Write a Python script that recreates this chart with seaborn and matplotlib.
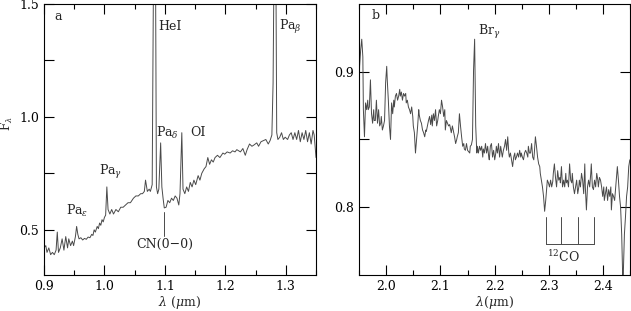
import matplotlib
matplotlib.use('Agg')
import matplotlib.pyplot as plt
import seaborn as sns
import pandas as pd
from matplotlib.ticker import MultipleLocator

# panel a: J-band spectrum (wavelength in micron, normalised flux)
wl_a = [0.900, 0.903, 0.905, 0.908, 0.911, 0.914, 0.917, 0.920, 0.922, 0.924,
        0.927, 0.930, 0.933, 0.936, 0.939, 0.941, 0.944, 0.947, 0.949, 0.952,
        0.954, 0.956, 0.958, 0.961, 0.964, 0.967, 0.970, 0.973, 0.976, 0.979,
        0.981, 0.983, 0.985, 0.988, 0.990, 0.992, 0.994, 0.996, 0.998, 1.000,
        1.002, 1.004, 1.006, 1.009, 1.012, 1.015,
        1.019, 1.023, 1.027, 1.031, 1.035, 1.039, 1.043, 1.048, 1.052, 1.056,
        1.060, 1.063, 1.066, 1.068, 1.071, 1.074, 1.076, 1.079, 1.082, 1.084,
        1.086, 1.088, 1.090, 1.093, 1.095, 1.097, 1.099, 1.102, 1.105, 1.108,
        1.111, 1.114, 1.117, 1.120, 1.123, 1.125, 1.128, 1.130, 1.133, 1.136,
        1.139, 1.142, 1.145, 1.148, 1.151, 1.155, 1.158, 1.161, 1.165, 1.168,
        1.171, 1.174, 1.177, 1.180, 1.183, 1.187, 1.191, 1.196, 1.199, 1.203,
        1.208, 1.212, 1.216, 1.219, 1.222, 1.225, 1.229, 1.233, 1.236, 1.240,
        1.244, 1.247, 1.252, 1.255, 1.259, 1.263, 1.267, 1.271, 1.274, 1.277,
        1.279, 1.2815, 1.283, 1.285, 1.287, 1.290, 1.293, 1.296, 1.299, 1.303,
        1.306, 1.309, 1.312, 1.315, 1.318, 1.321, 1.324, 1.327, 1.330, 1.333,
        1.336, 1.339, 1.342, 1.345, 1.347, 1.349, 1.350]
flux_a = [0.42, 0.43, 0.40, 0.42, 0.39, 0.40, 0.39, 0.41, 0.49, 0.40,
          0.42, 0.46, 0.41, 0.47, 0.42, 0.46, 0.43, 0.45, 0.43, 0.47,
          0.515, 0.48, 0.46, 0.465, 0.455, 0.462, 0.458, 0.468, 0.465, 0.48,
          0.475, 0.50, 0.49, 0.515, 0.505, 0.53, 0.52, 0.545, 0.535, 0.555,
          0.565, 0.69, 0.59, 0.57, 0.59, 0.57,
          0.59, 0.58, 0.60, 0.60, 0.61, 0.62, 0.62, 0.64, 0.65, 0.65,
          0.66, 0.66, 0.67, 0.72, 0.67, 0.68, 0.67, 0.70, 2.0, 2.0,
          0.69, 0.66, 0.68, 0.885, 0.69, 0.64, 0.597, 0.60, 0.63, 0.62,
          0.64, 0.63, 0.65, 0.64, 0.61, 0.66, 0.93, 0.68, 0.66, 0.69,
          0.67, 0.71, 0.69, 0.72, 0.70, 0.74, 0.72, 0.75, 0.77, 0.78,
          0.82, 0.79, 0.81, 0.80, 0.82, 0.83, 0.82, 0.84, 0.835, 0.845,
          0.84, 0.85, 0.845, 0.855, 0.85, 0.845, 0.86, 0.83, 0.855, 0.88,
          0.87, 0.875, 0.885, 0.87, 0.89, 0.895, 0.90, 0.88, 0.895, 0.92,
          1.15, 2.0, 2.0, 0.93, 0.90, 0.91, 0.93, 0.90, 0.91, 0.90,
          0.92, 0.93, 0.90, 0.93, 0.90, 0.94, 0.89, 0.93, 0.90, 0.94,
          0.89, 0.93, 0.88, 0.94, 0.92, 0.85, 0.82]

# panel b: K-band spectrum
wl_b = [1.947, 1.949, 1.951, 1.953, 1.955, 1.957, 1.958, 1.960, 1.962, 1.964,
        1.966, 1.967, 1.969, 1.971, 1.973, 1.975, 1.977, 1.978, 1.980, 1.982,
        1.984, 1.986, 1.988, 1.990, 1.991, 1.993, 1.995, 1.997, 1.999, 2.001,
        2.002, 2.004, 2.006, 2.008, 2.010, 2.012, 2.014, 2.015, 2.017, 2.019,
        2.021, 2.023, 2.025, 2.026, 2.028, 2.030, 2.032, 2.034, 2.036, 2.037,
        2.039, 2.041, 2.043, 2.045, 2.047, 2.049, 2.050, 2.052, 2.054, 2.056,
        2.058, 2.060, 2.061, 2.063, 2.065, 2.067, 2.069, 2.071, 2.073, 2.074,
        2.076, 2.078, 2.080, 2.082, 2.084, 2.085, 2.087, 2.089, 2.091, 2.093,
        2.095, 2.096, 2.098, 2.100, 2.102, 2.104, 2.106, 2.108, 2.109, 2.111,
        2.113, 2.115, 2.117, 2.119, 2.120, 2.122, 2.124, 2.126, 2.128, 2.130,
        2.131, 2.133, 2.135, 2.137, 2.139, 2.141, 2.143, 2.144, 2.146, 2.148,
        2.150, 2.152, 2.154, 2.155, 2.157, 2.159, 2.161, 2.163, 2.165, 2.167,
        2.168, 2.170, 2.172, 2.174, 2.176, 2.178, 2.179, 2.181, 2.183, 2.185,
        2.187, 2.189, 2.190, 2.192, 2.194, 2.196, 2.198, 2.200, 2.202, 2.203,
        2.205, 2.207, 2.209, 2.211, 2.213, 2.214, 2.216, 2.218, 2.220, 2.222,
        2.224, 2.226, 2.227, 2.229, 2.231, 2.233, 2.235, 2.237, 2.238, 2.240,
        2.242, 2.244, 2.246, 2.248, 2.249, 2.251, 2.253, 2.255, 2.257, 2.259,
        2.261, 2.262, 2.264, 2.266, 2.268, 2.270, 2.272, 2.273, 2.275, 2.277,
        2.279, 2.281, 2.283, 2.284, 2.286, 2.288, 2.290, 2.292, 2.294, 2.296,
        2.297, 2.299, 2.301, 2.303, 2.305, 2.307, 2.308, 2.310, 2.312, 2.314,
        2.316, 2.318, 2.320, 2.321, 2.323, 2.325, 2.327, 2.329, 2.331, 2.332,
        2.334, 2.336, 2.338, 2.340, 2.342, 2.343, 2.345, 2.347, 2.349, 2.351,
        2.353, 2.355, 2.356, 2.358, 2.360, 2.362, 2.364, 2.366, 2.367, 2.369,
        2.371, 2.373, 2.375, 2.377, 2.378, 2.380, 2.382, 2.384, 2.386, 2.388,
        2.390, 2.391, 2.393, 2.395, 2.397, 2.399, 2.401, 2.402, 2.404, 2.406,
        2.408, 2.410, 2.412, 2.414, 2.415, 2.417, 2.419, 2.421, 2.423, 2.425,
        2.426, 2.428, 2.430, 2.432, 2.434, 2.436, 2.437, 2.439, 2.441, 2.443,
        2.445, 2.447, 2.449]
flux_b = [0.894, 0.862, 0.904, 0.916, 0.924, 0.911, 0.872, 0.852, 0.877, 0.872,
          0.879, 0.872, 0.874, 0.894, 0.869, 0.862, 0.872, 0.864, 0.864, 0.879,
          0.862, 0.872, 0.860, 0.862, 0.867, 0.857, 0.860, 0.864, 0.892, 0.904,
          0.894, 0.879, 0.860, 0.850, 0.877, 0.869, 0.879, 0.874, 0.882, 0.884,
          0.879, 0.882, 0.887, 0.882, 0.885, 0.879, 0.884, 0.882, 0.884, 0.877,
          0.879, 0.874, 0.872, 0.869, 0.874, 0.867, 0.860, 0.855, 0.840, 0.850,
          0.860, 0.872, 0.868, 0.864, 0.862, 0.857, 0.855, 0.852, 0.857, 0.856,
          0.860, 0.864, 0.867, 0.861, 0.868, 0.860, 0.869, 0.864, 0.872, 0.860,
          0.864, 0.867, 0.872, 0.869, 0.879, 0.874, 0.867, 0.872, 0.857, 0.864,
          0.862, 0.860, 0.861, 0.857, 0.855, 0.860, 0.856, 0.852, 0.847, 0.850,
          0.852, 0.855, 0.869, 0.860, 0.852, 0.845, 0.847, 0.843, 0.842, 0.847,
          0.842, 0.841, 0.840, 0.845, 0.846, 0.850, 0.901, 0.924, 0.860, 0.840,
          0.845, 0.840, 0.845, 0.842, 0.845, 0.837, 0.843, 0.840, 0.847, 0.840,
          0.845, 0.837, 0.835, 0.845, 0.847, 0.837, 0.842, 0.835, 0.840, 0.845,
          0.840, 0.847, 0.837, 0.845, 0.840, 0.837, 0.842, 0.845, 0.850, 0.842,
          0.852, 0.840, 0.837, 0.840, 0.835, 0.830, 0.837, 0.840, 0.835, 0.837,
          0.840, 0.837, 0.842, 0.837, 0.840, 0.837, 0.835, 0.840, 0.842, 0.840,
          0.837, 0.845, 0.840, 0.840, 0.847, 0.837, 0.835, 0.840, 0.852, 0.845,
          0.837, 0.832, 0.830, 0.825, 0.820, 0.815, 0.808, 0.797, 0.805, 0.815,
          0.820, 0.818, 0.815, 0.820, 0.815, 0.819, 0.825, 0.832, 0.822, 0.815,
          0.827, 0.820, 0.822, 0.818, 0.830, 0.815, 0.820, 0.815, 0.825, 0.818,
          0.820, 0.815, 0.832, 0.820, 0.818, 0.825, 0.815, 0.810, 0.815, 0.820,
          0.810, 0.815, 0.820, 0.815, 0.825, 0.820, 0.810, 0.832, 0.815, 0.798,
          0.815, 0.820, 0.815, 0.825, 0.832, 0.815, 0.813, 0.820, 0.815, 0.825,
          0.820, 0.815, 0.822, 0.820, 0.815, 0.808, 0.815, 0.805, 0.810, 0.815,
          0.805, 0.813, 0.808, 0.815, 0.798, 0.810, 0.808, 0.805, 0.815, 0.825,
          0.830, 0.820, 0.808, 0.800, 0.780, 0.746, 0.751, 0.780, 0.793, 0.808,
          0.815, 0.830, 0.835]

# 12CO bandheads marked under panel b
co_heads = [2.294, 2.323, 2.353, 2.383]

df_a = pd.DataFrame({'wl': wl_a, 'flux': flux_a})
df_b = pd.DataFrame({'wl': wl_b, 'flux': flux_b})

sns.set_style('ticks')
plt.rcParams['font.family'] = ['DejaVu Serif']
plt.rcParams['mathtext.fontset'] = 'dejavuserif'
plt.rcParams['font.size'] = 9

line_col = '#4a4a4a'
fig = plt.figure(figsize=(6.31, 3.11), dpi=100)
ax1 = fig.add_axes([0.0697, 0.1158, 0.4311, 0.8714])
ax2 = fig.add_axes([0.569, 0.1158, 0.4300, 0.8714])

sns.lineplot(data=df_a, x='wl', y='flux', ax=ax1, color=line_col, lw=0.7, estimator=None)
sns.lineplot(data=df_b, x='wl', y='flux', ax=ax2, color=line_col, lw=0.7, estimator=None)

for ax in (ax1, ax2):
    ax.tick_params(which='both', direction='in', top=True, right=True,
                   width=0.8, labelsize=9, colors='black')
    ax.tick_params(which='major', length=7)
    ax.tick_params(which='minor', length=3.5)
    ax.xaxis.set_major_locator(MultipleLocator(0.1))
    ax.xaxis.set_minor_locator(MultipleLocator(0.05))
    for s in ax.spines.values():
        s.set_linewidth(0.8)
        s.set_color('black')

# panel a
ax1.set_xlim(0.9, 1.35)
ax1.set_ylim(0.3, 1.5)
ax1.set_yticks([0.5, 0.75, 1.0, 1.25, 1.5])
ax1.set_yticklabels(['0.5', '', '1.0', '', '1.5'])
ax1.set_xlabel(r'$\lambda$ ($\mu$m)', labelpad=1)
ax1.set_ylabel(r'F$_\lambda$', fontsize=8.5)
ax1.yaxis.set_label_coords(-0.105, 0.56)
ax1.text(0.918, 1.445, 'a', va='center')
ax1.text(1.089, 1.40, 'HeI', va='center')
ax1.text(1.2895, 1.40, r'Pa$_\beta$', va='center')
ax1.text(1.086, 0.93, r'Pa$_\delta$', va='center')
ax1.text(1.1425, 0.93, 'OI', va='center')
ax1.text(0.991, 0.755, r'Pa$_\gamma$', va='center')
ax1.text(0.936, 0.585, r'Pa$_\epsilon$', va='center')
ax1.plot([1.0983, 1.0983], [0.577, 0.473], color=line_col, lw=0.7)
ax1.text(1.100, 0.433, 'CN(0\u22120)', ha='center', va='center')

# panel b
ax2.set_xlim(1.95, 2.45)
ax2.set_ylim(0.75, 0.95)
ax2.set_yticks([0.8, 0.85, 0.9])
ax2.set_yticklabels(['0.8', '', '0.9'])
ax2.set_xlabel(r'$\lambda$($\mu$m)', labelpad=1)
ax2.set_ylabel('')
ax2.text(1.973, 0.9415, 'b', va='center')
ax2.text(2.170, 0.929, r'Br$_\gamma$', va='center')
for w in co_heads:
    ax2.plot([w, w], [0.793, 0.773], color=line_col, lw=0.7)
ax2.plot([co_heads[0], co_heads[-1]], [0.773, 0.773], color=line_col, lw=0.7)
ax2.text(2.326, 0.763, r'$^{12}$CO', ha='center', va='center')

fig.savefig('out.png', dpi=100)
